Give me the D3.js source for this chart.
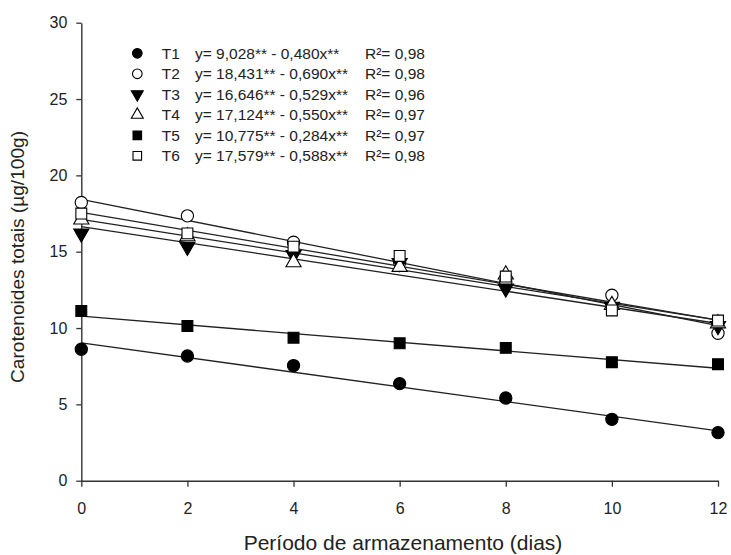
<!DOCTYPE html>
<html>
<head>
<meta charset="utf-8">
<script src="https://cdn.jsdelivr.net/npm/d3@7"></script>
<style>
  body { margin: 0; background: #fff; }
  svg { font-family: "Liberation Sans", Arial, sans-serif; }
</style>
</head>
<body>
<div id="chart"></div>
<script>
// Dados
var dias = [0, 2, 4, 6, 8, 10, 12];
var T1 = [8.61, 8.17, 7.54, 6.36, 5.42, 4.02, 3.15];
var T2 = [18.22, 17.35, 15.62, 14.30, 13.00, 12.15, 9.66];
var T3 = [16.20, 15.33, 14.79, 14.26, 12.60, 11.40, 10.14];
var T4 = [17.10, 16.00, 14.30, 14.00, 13.50, 11.50, 10.30];
var T5 = [11.12, 10.14, 9.37, 9.00, 8.70, 7.76, 7.63];
var T6 = [17.50, 16.20, 15.33, 14.72, 13.37, 11.15, 10.49];

var nomes = ["T1", "T2", "T3", "T4", "T5", "T6"];
var intercepto = [9.028, 18.431, 16.646, 17.124, 10.775, 17.579];
var inclinacao = [-0.480, -0.690, -0.529, -0.550, -0.284, -0.588];
var equacoes = ["y= 9,028** - 0,480x**", "y= 18,431** - 0,690x**", "y= 16,646** - 0,529x**",
                "y= 17,124** - 0,550x**", "y= 10,775** - 0,284x**", "y= 17,579** - 0,588x**"];
var r2 = ["R²= 0,98", "R²= 0,98", "R²= 0,96", "R²= 0,97", "R²= 0,97", "R²= 0,98"];

var xTicks = [0, 2, 4, 6, 8, 10, 12];
var yTicks = [0, 5, 10, 15, 20, 25, 30];

var series = [T1, T2, T3, T4, T5, T6];

// estilo dos marcadores
var simbolos = [d3.symbolCircle, d3.symbolCircle, d3.symbolTriangle, d3.symbolTriangle, d3.symbolSquare, d3.symbolSquare];
var cheio = [true, false, true, false, true, false];
var girar = [0, 0, 180, 0, 0, 0];
var tamanhos = [118, 118, 100, 100, 118, 118];

var margin = {top: 22.7, right: 13, bottom: 74.3, left: 81.3},
    width = 731 - margin.left - margin.right,
    height = 555 - margin.top - margin.bottom;

var svg = d3.select("#chart")
  .append("svg")
    .attr("width", 731)
    .attr("height", 555)
  .append("g")
    .attr("transform", "translate(" + margin.left + "," + margin.top + ")");

var x = d3.scaleLinear().domain([0, 12]).range([0, 636.7]);
var y = d3.scaleLinear().domain([0, 30]).range([458, 0]);

// eixos
var gx = svg.append("g")
  .attr("transform", "translate(0," + y(0) + ")")
  .call(d3.axisBottom(x).tickValues(xTicks).tickSize(6).tickSizeOuter(0).tickPadding(16));
var gy = svg.append("g")
  .call(d3.axisLeft(y).tickValues(yTicks).tickSize(5).tickSizeOuter(0).tickPadding(9));

[gx, gy].forEach(function(g) {
  g.select(".domain").attr("stroke", "#333").attr("stroke-width", 1.4);
  g.selectAll(".tick line").attr("stroke", "#333").attr("stroke-width", 1.3);
  g.selectAll(".tick text").attr("fill", "#222").style("font-size", "16px");
});

svg.append("text")
  .attr("x", 403 - margin.left)
  .attr("y", 550 - margin.top)
  .style("text-anchor", "middle")
  .style("font-size", "21px")
  .attr("fill", "#222")
  .text("Período de armazenamento (dias)");

svg.append("text")
  .attr("transform", "rotate(-90)")
  .attr("x", -(257 - margin.top))
  .attr("y", 24 - margin.left)
  .style("text-anchor", "middle")
  .style("font-size", "19px")
  .attr("textLength", 252)
  .attr("lengthAdjust", "spacingAndGlyphs")
  .attr("fill", "#222")
  .text("Carotenoides totais (µg/100g)");

// retas de regressão
nomes.forEach(function(n, i) {
  svg.append("path")
    .datum([0, 12])
    .attr("d", d3.line()
      .x(function(d) { return x(d); })
      .y(function(d) { return y(intercepto[i] + inclinacao[i] * d); }))
    .attr("stroke", "#222")
    .attr("stroke-width", 1.3)
    .attr("fill", "none");
});

// pontos
series.forEach(function(s, i) {
  svg.append("g").selectAll("path")
    .data(s)
    .enter()
    .append("path")
      .attr("d", d3.symbol().type(simbolos[i]).size(tamanhos[i]))
      .attr("transform", function(d, j) {
        return "translate(" + x(dias[j]) + "," + y(d) + ") rotate(" + girar[i] + ")";
      })
      .attr("fill", cheio[i] ? "#000" : "#fff")
      .attr("stroke", "#000")
      .attr("stroke-width", 1.1);
});

// legenda
var leg = svg.append("g").attr("transform", "translate(0," + (53.3 - margin.top) + ")");
nomes.forEach(function(n, i) {
  var row = leg.append("g").attr("transform", "translate(0," + (i * 20.5) + ")");
  row.append("path")
    .attr("d", d3.symbol().type(simbolos[i]).size(tamanhos[i] * 0.62))
    .attr("transform", "translate(" + (137.3 - margin.left) + ",0) rotate(" + girar[i] + ")")
    .attr("fill", cheio[i] ? "#000" : "#fff")
    .attr("stroke", "#000")
    .attr("stroke-width", 1.1);
  row.append("text").attr("x", 161.7 - margin.left).attr("dy", "0.36em")
    .style("font-size", "15.5px").attr("fill", "#222").text(n);
  row.append("text").attr("x", 195 - margin.left).attr("dy", "0.36em")
    .style("font-size", "15.5px").attr("fill", "#222").text(equacoes[i]);
  row.append("text").attr("x", 365 - margin.left).attr("dy", "0.36em")
    .style("font-size", "15.5px").attr("fill", "#222").text(r2[i]);
});
</script>
</body>
</html>
